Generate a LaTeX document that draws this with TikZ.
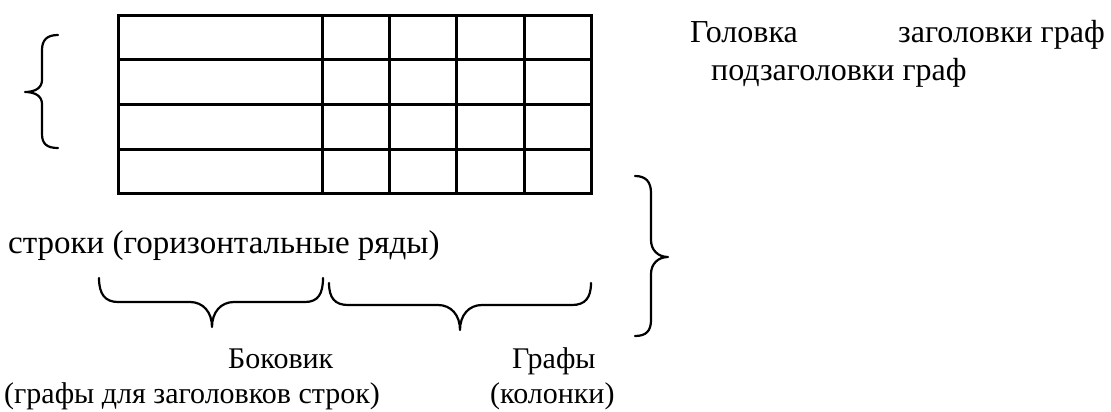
\documentclass[tikz,border=0pt]{standalone}
\usepackage{fontspec}
\setmainfont{Liberation Serif}
\tikzset{
  gridline/.style={line width=3pt, line cap=rect},
  bracepath/.style={line width=2.2pt, line cap=round, line join=round},
  lbl/.style={inner sep=0pt, font=\fontsize{32}{36}\selectfont, anchor=base west},
  lblsm/.style={inner sep=0pt, font=\fontsize{30}{34}\selectfont, anchor=base west},
}
\begin{document}
\begin{tikzpicture}[x=1pt,y=-1pt]
\useasboundingbox (0,0) rectangle (1111,412);
% table grid
\foreach \yy in {16,60,104,149,193} \draw[gridline] (118,\yy) -- (591,\yy);
\foreach \xx in {118,322,389,456,524,591} \draw[gridline] (\xx,16) -- (\xx,193);
% left brace (rows)
\draw[bracepath] (58,35) .. controls (47,35) and (42,40) .. (42,50) -- (42,80)
  .. controls (42,88) and (35,92) .. (25,92)
  .. controls (35,92) and (42,96) .. (42,104) -- (42,134)
  .. controls (42,144) and (47,148) .. (58,148);
% right brace (head)
\draw[bracepath] (635,176) .. controls (646,176) and (651,182) .. (651,193) -- (651,240)
  .. controls (651,250) and (658,257) .. (668,257)
  .. controls (658,257) and (651,264) .. (651,274) -- (651,320)
  .. controls (651,331) and (646,336) .. (635,336);
% bottom braces
\draw[bracepath] (99,278) .. controls (99,294) and (105,302) .. (118,302) -- (190,302)
  .. controls (203,302) and (212,312) .. (212,327)
  .. controls (212,312) and (221,302) .. (234,302) -- (305,302)
  .. controls (318,302) and (323,294) .. (323,278);
\draw[bracepath] (329,283) .. controls (329,298) and (335,305) .. (348,305) -- (438,305)
  .. controls (451,305) and (460,315) .. (460,330)
  .. controls (460,315) and (469,305) .. (482,305) -- (572,305)
  .. controls (585,305) and (591,298) .. (591,283);
% labels
\node[lbl] (golovka) at (690,43) {Головка};
\node[lbl, anchor=base east] (zagol) at (1105,43) {заголовки граф};
\node[lbl] (podzag) at (711,81) {подзаголовки граф};
\node[lbl, font=\fontsize{33}{36}\selectfont] (stroki) at (8,253) {строки (горизонтальные ряды)};
\node[lblsm] (bokovik) at (228,368) {Боковик};
\node[lblsm] (bokovik2) at (4,403) {(графы для заголовков строк)};
\node[lblsm] (grafy) at (512,368) {Графы};
\node[lblsm] (grafy2) at (490,403) {(колонки)};
\end{tikzpicture}
\end{document}
